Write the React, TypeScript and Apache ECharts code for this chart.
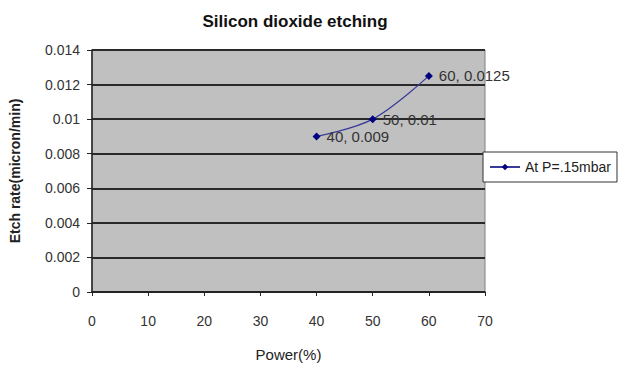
import React, { useEffect, useRef } from "react";
import * as echarts from "echarts";

const powerValues = [40, 50, 60];
const etchRates = [0.009, 0.01, 0.0125];
const seriesName = "At P=.15mbar";
const titleText = "Silicon dioxide etching";
const xAxisName = "Power(%)";
const yAxisName = "Etch rate(micron/min)";

export default function App() {
  const ref = useRef<HTMLDivElement>(null);
  useEffect(() => {
    if (!ref.current) return;
    const chart = echarts.init(ref.current, null, { renderer: "svg" });
    const font = "'Liberation Sans Narrow', 'Liberation Sans', Arial, sans-serif";
    chart.setOption({
      animation: false,
      backgroundColor: "#ffffff",
      title: {
        text: titleText,
        left: 290,
        textAlign: "center",
        top: 8,
        textStyle: { fontFamily: "'Liberation Sans', Arial, sans-serif", fontSize: 17, fontWeight: "bold", color: "#111" },
      },
      legend: {
        left: 483,
        top: 152,
        width: 144,
        height: 31,
        padding: [8, 6, 8, 6],
        borderColor: "#333",
        borderWidth: 1,
        backgroundColor: "#fff",
        itemWidth: 30,
        itemHeight: 8,
        itemGap: 4,
        textStyle: { fontFamily: font, fontSize: 14, color: "#222" },
        data: [seriesName],
      },
      grid: {
        left: 90,
        right: 150,
        top: 50,
        bottom: 75,
        show: true,
        backgroundColor: "#c0c0c0",
        borderColor: "#808080",
        borderWidth: 1,
      },
      xAxis: {
        type: "value",
        min: 0,
        max: 70,
        interval: 10,
        name: xAxisName,
        nameLocation: "middle",
        nameGap: 55,
        nameTextStyle: { fontFamily: font, fontSize: 15, color: "#222" },
        axisLine: { show: true, lineStyle: { color: "#222", width: 1.5 } },
        axisTick: { show: true, inside: false, length: 4, lineStyle: { color: "#222" } },
        axisLabel: { fontFamily: font, fontSize: 14, color: "#333", margin: 22 },
        splitLine: { show: false },
      },
      yAxis: {
        type: "value",
        min: 0,
        max: 0.014,
        interval: 0.002,
        name: yAxisName,
        nameLocation: "middle",
        nameGap: 70,
        nameTextStyle: { fontFamily: "'Liberation Sans', Arial, sans-serif", fontSize: 14, fontWeight: "bold", color: "#222" },
        axisLine: { show: true, lineStyle: { color: "#222", width: 1.5 } },
        axisTick: { show: true, inside: false, length: 5, lineStyle: { color: "#222" } },
        axisLabel: { fontFamily: font, fontSize: 14, color: "#333", margin: 12 },
        splitLine: { show: true, lineStyle: { color: "#2a2a2a", width: 2 } },
      },
      series: [
        {
          name: seriesName,
          type: "line",
          smooth: 0.35,
          data: powerValues.map((x, i) => [x, etchRates[i]]),
          symbol: "diamond",
          symbolSize: 8,
          itemStyle: { color: "#000080" },
          lineStyle: { color: "#3a3a9a", width: 1.2 },
          label: {
            show: true,
            position: "right",
            distance: 6,
            fontFamily: font,
            fontSize: 15,
            color: "#333",
            formatter: (p: any) => `${p.value[0]}, ${p.value[1]}`,
          },
        },
      ],
    });
    return () => chart.dispose();
  }, []);
  return <div ref={ref} style={{ width: 635, height: 367, position: "fixed", left: 0, top: 0 }} />;
}
